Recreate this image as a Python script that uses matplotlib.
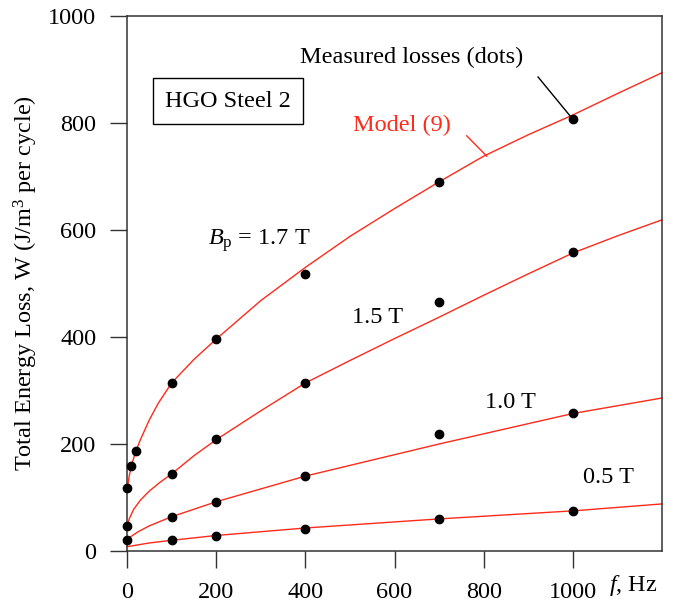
import numpy as np
import matplotlib
matplotlib.use("Agg")
from matplotlib import pyplot as plt

plt.rcParams['font.family'] = ['Liberation Serif', 'DejaVu Serif']
plt.rcParams['mathtext.fontset'] = 'custom'
plt.rcParams['mathtext.rm'] = 'Liberation Serif'
plt.rcParams['mathtext.it'] = 'Liberation Serif:italic'

# measured losses (dots)
f_17 = [0, 10, 20, 100, 200, 400, 700, 1000]
w_17 = [118, 159, 186, 314, 396, 518, 690, 807]
f_15 = [0, 100, 200, 400, 700, 1000]
w_15 = [47, 144, 209, 314, 465, 559]
f_10 = [0, 100, 200, 400, 700, 1000]
w_10 = [21, 64, 92, 141, 218, 258]
f_05 = [100, 200, 400, 700, 1000]
w_05 = [21, 28, 42, 60, 75]

# model (9) curves
fm_17 = [0, 5, 10, 20, 30, 50, 70, 100, 150, 200, 300, 400, 500, 600, 700, 800, 900, 1000, 1100, 1200]
wm_17 = [112, 140, 160, 187, 208, 245, 276, 314, 358, 396, 468, 530, 588, 640, 690, 738, 778, 815, 855, 894]
fm_15 = [0, 5, 15, 30, 50, 75, 100, 150, 200, 300, 400, 500, 600, 700, 800, 900, 1000, 1100, 1200]
wm_15 = [46, 60, 78, 95, 112, 129, 144, 178, 208, 262, 314, 356, 397, 437, 478, 518, 557, 589, 619]
fm_10 = [0, 25, 50, 100, 200, 400, 700, 1000, 1200]
wm_10 = [22, 36, 47, 64, 92, 140, 200, 257, 286]
fm_05 = [0, 50, 100, 200, 400, 700, 1000, 1200]
wm_05 = [8, 15, 20, 29, 43, 60, 75, 88]

fig = plt.figure(figsize=(6.84, 6.04), dpi=100)
ax = fig.add_axes([127/684, 1 - 551/604, (662-127)/684, (551-16)/604])

red = '#ff2a1a'
fs = 17.5
for fm, wm in [(fm_17, wm_17), (fm_15, wm_15), (fm_10, wm_10), (fm_05, wm_05)]:
    ax.plot(fm, wm, color=red, lw=1.0, clip_on=False, zorder=2)
for f, w in [(f_17, w_17), (f_15, w_15), (f_10, w_10), (f_05, w_05)]:
    ax.plot(f, w, 'o', color='black', ms=6, clip_on=False, zorder=3)

ax.set_xlim(0, 1200)
ax.set_ylim(0, 1000)
ax.set_xticks([0, 200, 400, 600, 800, 1000])
ax.set_yticks([0, 200, 400, 600, 800, 1000])
ax.tick_params(direction='out', length=12, width=1.0, pad=10, labelsize=fs, color='#333333')
for s in ax.spines.values():
    s.set_linewidth(1.1)
    s.set_color('#333333')

ax.set_ylabel('Total Energy Loss, W (J/m$^3$ per cycle)', fontsize=fs, labelpad=6)
ax.text(1082, -64, '$f$, Hz', fontsize=fs, va='center', ha='left', clip_on=False)

ax.text(226, 841, 'HGO Steel 2', fontsize=fs, ha='center', va='center',
        bbox=dict(boxstyle='square,pad=0.5', fc='white', ec='black', lw=1.0))

ax.text(182, 572, r'$B_{\rm p}$ = 1.7 T', fontsize=fs, ha='left', va='baseline')
ax.text(504, 437, '1.5 T', fontsize=fs, ha='left', va='center')
ax.text(803, 277, '1.0 T', fontsize=fs, ha='left', va='center')
ax.text(1022, 138, '0.5 T', fontsize=fs, ha='left', va='center')

ax.text(388, 923, 'Measured losses (dots)', fontsize=fs, ha='left', va='center')
ax.plot([922, 1000], [886, 807], color='black', lw=1.0)
ax.text(507, 796, 'Model (9)', fontsize=fs, ha='left', va='center', color=red)
ax.plot([762, 807], [776, 738], color=red, lw=1.0)

fig.savefig('out.png', dpi=100)
